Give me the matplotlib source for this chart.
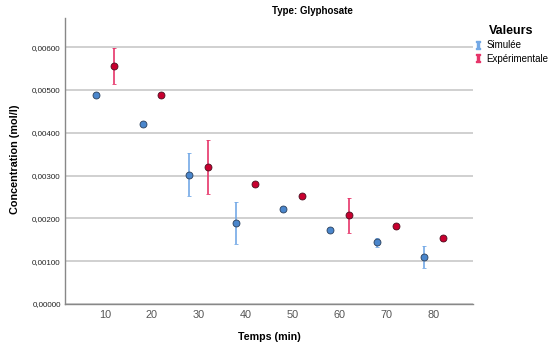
import matplotlib.pyplot as plt
from matplotlib.lines import Line2D
from matplotlib.ticker import FuncFormatter

plt.rcParams['font.family'] = ['Liberation Sans', 'DejaVu Sans']

# Simulée
sim_t = [8, 18, 28, 38, 48, 58, 68, 78]
sim_c = [0.00487, 0.00420, 0.00302, 0.00190, 0.00222, 0.00172, 0.00144, 0.00110]
sim_err = [0.00002, 0.00002, 0.00050, 0.00049, 0.00005, 0.00002, 0.00011, 0.00025]

# Expérimentale
exp_t = [12, 22, 32, 42, 52, 62, 72, 82]
exp_c = [0.00556, 0.00487, 0.00320, 0.00280, 0.00252, 0.00207, 0.00182, 0.00153]
exp_err = [0.00041, 0.00002, 0.00064, 0.00002, 0.00004, 0.00040, 0.00006, 0.00006]

xticks = [10, 20, 30, 40, 50, 60, 70, 80]
yticks = [0, 0.001, 0.002, 0.003, 0.004, 0.005, 0.006]

blue_bar = "#74a9e6"
blue_pt = "#4a86cc"
red_bar = "#e6356a"
red_pt = "#c8002f"

fig = plt.figure(figsize=(5.48, 3.48), dpi=100)
ax = fig.add_axes([65 / 548, 1 - 304 / 348, 408 / 548, 286 / 348])

ax.errorbar(sim_t, sim_c, yerr=sim_err, fmt="o", color=blue_bar, ecolor=blue_bar,
            elinewidth=1.2, capsize=1.7, capthick=1.2, markersize=5,
            markerfacecolor=blue_pt, markeredgecolor="#2a3f5a", markeredgewidth=0.6, zorder=3)
ax.errorbar(exp_t, exp_c, yerr=exp_err, fmt="o", color=red_bar, ecolor=red_bar,
            elinewidth=1.2, capsize=1.7, capthick=1.2, markersize=5,
            markerfacecolor=red_pt, markeredgecolor="#4a1020", markeredgewidth=0.6, zorder=3)

ax.set_xlim(1.45, 88.5)
ax.set_ylim(0, 0.00668)
ax.set_xticks(xticks)
ax.set_yticks(yticks)
ax.yaxis.set_major_formatter(FuncFormatter(lambda v, p: f"{v:.5f}".replace(".", ",")))
ax.tick_params(axis="x", length=0, labelsize=7.8, labelcolor="#555555", pad=4.5)
ax.tick_params(axis="y", length=0, labelsize=5.8, labelcolor="#222222", pad=3)

ax.grid(axis="y", color="#c8c8c8", linewidth=1.2)
ax.set_axisbelow(True)
for s in ["top", "right"]:
    ax.spines[s].set_visible(False)
for s in ["left", "bottom"]:
    ax.spines[s].set_color("#888888")
    ax.spines[s].set_linewidth(1.0)

ax.set_xlabel("Temps (min)", fontsize=7.7, fontweight="bold", va="center")
ax.xaxis.set_label_coords(0.5, (304 - 337) / 286)
ax.set_ylabel("Concentration (mol/l)", fontsize=7.8, fontweight="bold", va="center")
ax.yaxis.set_label_coords((15 - 65) / 408, (304 - 159) / 286)
fig.text(312 / 548, 1 - 11 / 348, "Type: Glyphosate", fontsize=7, fontweight="bold",
         ha="center", va="center")

handles = [
    Line2D([], [], color=blue_bar, marker=r"$\mathtt{I}$", linestyle="None", markersize=5.5),
    Line2D([], [], color=red_bar, marker=r"$\mathtt{I}$", linestyle="None", markersize=5.5),
]
leg = fig.legend(handles, ["Simulée", "Expérimentale"], title="Valeurs",
                 loc="upper left", bbox_to_anchor=(475 / 548, 1 - 25 / 348),
                 frameon=False, fontsize=7, title_fontproperties={"weight": "bold", "size": 9},
                 handlelength=0.6, handletextpad=0.55, labelspacing=0.35,
                 borderaxespad=0, borderpad=0)

fig.savefig("out.png", dpi=100)
